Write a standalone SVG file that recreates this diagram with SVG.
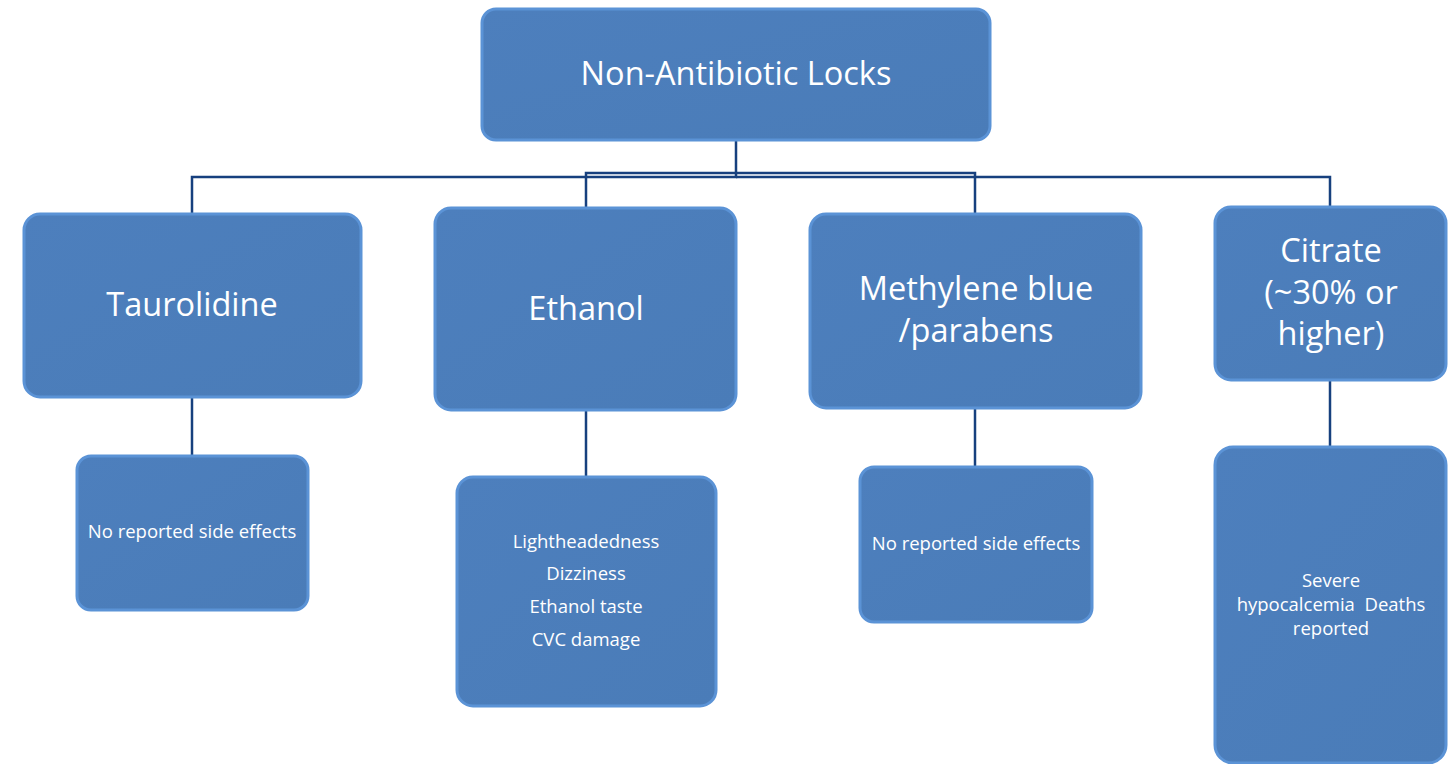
<svg xmlns="http://www.w3.org/2000/svg" width="1448" height="764" viewBox="0 0 1448 764">
<defs>
<linearGradient id="g" x1="0" y1="0" x2="1" y2="1">
<stop offset="0" stop-color="#4d7fbd"/>
<stop offset="1" stop-color="#4a7cb8"/>
</linearGradient>
</defs>
<style>
.box{fill:url(#g);stroke:#5b93d6;stroke-width:3;}
.big{font-family:"Open Sans","Liberation Sans",sans-serif;fill:#ffffff;text-anchor:middle;font-size:32.5px;}
.small{font-family:"Open Sans","Liberation Sans",sans-serif;fill:#ffffff;text-anchor:middle;font-size:18.5px;}
.conn{fill:none;stroke:#17407e;stroke-width:2.5;}
</style>
<rect width="1448" height="764" fill="#ffffff"/>
<g id="connectors">
<path class="conn" d="M736,140 V177 H192 V213"/>
<path class="conn" d="M736,177 H1330 V207"/>
<path class="conn" d="M736,173 H586 V207"/>
<path class="conn" d="M736,173 H975 V213"/>
<path class="conn" d="M192,397 V456"/>
<path class="conn" d="M586,410 V477"/>
<path class="conn" d="M975,408 V467"/>
<path class="conn" d="M1330,380 V447"/>
</g>
<g id="root">
<rect class="box" x="482" y="9" width="508" height="131" rx="14"/>
<text class="big" x="736" y="85">Non-Antibiotic Locks</text>
</g>
<g id="taurolidine">
<rect class="box" x="24" y="214" width="337" height="183" rx="16"/>
<text class="big" x="192" y="316">Taurolidine</text>
</g>
<g id="ethanol">
<rect class="box" x="435" y="208" width="301" height="202" rx="16"/>
<text class="big" x="586" y="320">Ethanol</text>
</g>
<g id="methylene">
<rect class="box" x="810" y="214" width="331" height="194" rx="16"/>
<text class="big" x="976" y="300">Methylene blue</text>
<text class="big" x="976" y="342">/parabens</text>
</g>
<g id="citrate">
<rect class="box" x="1215" y="207" width="231" height="173" rx="16"/>
<text class="big" x="1331" y="262">Citrate</text>
<text class="big" x="1331" y="304">(~30% or</text>
<text class="big" x="1331" y="345">higher)</text>
</g>
<g id="taurolidine-effects">
<rect class="box" x="77" y="456" width="231" height="154" rx="14"/>
<text class="small" x="192" y="538">No reported side effects</text>
</g>
<g id="ethanol-effects">
<rect class="box" x="457" y="477" width="259" height="229" rx="16"/>
<text class="small" x="586" y="548">Lightheadedness</text>
<text class="small" x="586" y="580">Dizziness</text>
<text class="small" x="586" y="613">Ethanol taste</text>
<text class="small" x="586" y="646">CVC damage</text>
</g>
<g id="methylene-effects">
<rect class="box" x="860" y="467" width="232" height="155" rx="14"/>
<text class="small" x="976" y="550">No reported side effects</text>
</g>
<g id="citrate-effects">
<rect class="box" x="1215" y="447" width="231" height="316" rx="18"/>
<text class="small" x="1331" y="587">Severe</text>
<text class="small" x="1331" y="611" xml:space="preserve">hypocalcemia  Deaths</text>
<text class="small" x="1331" y="635">reported</text>
</g>
</svg>
